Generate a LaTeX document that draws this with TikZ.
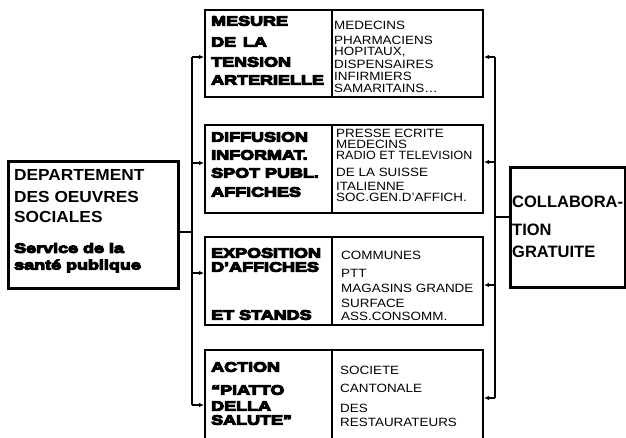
\documentclass[tikz,border=0pt]{standalone}
\usepackage{fontspec}
\newfontfamily\heavyfont[FakeStretch=1.33,FakeBold=8]{Liberation Sans Bold}
\newfontfamily\headfont[FakeStretch=1.08]{Liberation Sans Bold}
\newfontfamily\boldfont{Liberation Sans Bold}
\newfontfamily\listfont[FakeStretch=1.12]{Liberation Sans}
\usetikzlibrary{arrows.meta,positioning}
\tikzset{
  box/.style={draw, line width=2pt, inner sep=0pt},
  heavy/.style={anchor=west, inner sep=0pt, font=\heavyfont\fontsize{13.5}{13.5}\selectfont},
  item/.style={anchor=west, inner sep=0pt, font=\listfont\fontsize{12}{12}\selectfont},
  head/.style={anchor=west, inner sep=0pt, font=\headfont\fontsize{16}{16}\selectfont},
  bus/.style={line width=1.3pt},
  arr/.style={-{Latex[length=5pt,width=4.5pt]}, line width=1.3pt}
}
\begin{document}
\begin{tikzpicture}[x=1pt,y=-1pt]
\clip (0,0) rectangle (626,438);
\fill[white] (0,0) rectangle (626,438);
% left: department
\node[box, line width=3pt, minimum width=170pt, minimum height=126pt] (dep) at (93,225) {};
\node[head] (dep1) at (14,175) {DEPARTEMENT};
\node[head] (dep2) at (14,197) {DES OEUVRES};
\node[head] (dep3) at (14,217) {SOCIALES};
\node[heavy, font=\heavyfont\fontsize{13.5}{13.5}\selectfont] (sp1) at (14,248) {Service de la};
\node[heavy, font=\heavyfont\fontsize{13.5}{13.5}\selectfont] (sp2) at (14,266) {santé publique};
% middle: the four actions
\node[box, minimum width=278pt, minimum height=87pt] (mes) at (344,53.5) {};
\node[box, minimum width=278pt, minimum height=88pt] (dif) at (344,169) {};
\node[box, minimum width=278pt, minimum height=88pt] (exp) at (344,281) {};
\node[box, minimum width=278pt, minimum height=110pt] (act) at (344,405) {};
\coordinate (div) at (332,0);
\foreach \n in {mes,dif,exp,act}
  \draw[line width=1.5pt] (\n.north -| div) -- (\n.south -| div);
% action titles
\foreach \t/\y [count=\i] in {MESURE/21, DE\enspace LA/42, TENSION/62, ARTERIELLE/80,
    DIFFUSION/137, INFORMAT./155, SPOT PUBL./173, AFFICHES/192,
    EXPOSITION/253, D’AFFICHES/267, ET STANDS/315,
    ACTION/367, “PIATTO/390, DELLA/406, SALUTE”/420}
  \node[heavy] (ti-\i) at (211,\y) {\t};
% partners
\foreach \t/\y [count=\i] in {MEDECINS/25, PHARMACIENS/40, {HOPITAUX,}/52, DISPENSAIRES/64,
    INFIRMIERS/76, {SAMARITAINS\ldots}/88}
  \node[item] (pa-\i) at (334,\y) {\t};
\foreach \t/\y [count=\i] in {PRESSE ECRITE/133, MEDECINS/144, {\scalebox{0.93}[1]{RADIO ET TELEVISION}}/155,
    DE LA SUISSE/172, ITALIENNE/186, SOC.GEN.D’AFFICH./197}
  \node[item] (pb-\i) at (336,\y) {\t};
\foreach \t/\y [count=\i] in {COMMUNES/255, PTT/273, MAGASINS GRANDE/288, SURFACE/303,
    ASS.CONSOMM./316}
  \node[item] (pc-\i) at (341,\y) {\t};
\foreach \t/\y [count=\i] in {SOCIETE/370, CANTONALE/388, DES/408, RESTAURATEURS/422}
  \node[item] (pd-\i) at (340,\y) {\t};
% right: collaboration
\node[box, line width=3pt, minimum width=115pt, minimum height=119pt] (col) at (567.5,227.5) {};
\node[head, font=\boldfont\fontsize{16.5}{16.5}\selectfont] (col1) at (512,202) {COLLABORA-};
\node[head, font=\boldfont\fontsize{16.5}{16.5}\selectfont] (col2) at (512,230) {TION};
\node[head, font=\boldfont\fontsize{16.5}{16.5}\selectfont] (col3) at (512,252) {GRATUITE};
% left distribution
\coordinate (lj) at (192,232);
\foreach \n/\y in {mes/57, dif/163, exp/273, act/405}
  \coordinate (lb-\n) at (192,\y);
\draw[bus] (dep.east |- lj) -- (lj);
\draw[bus] (lb-mes) -- (lb-act);
\foreach \n in {mes,dif,exp,act}
  \draw[arr] (lb-\n) -- (lb-\n -| \n.west);
% right distribution
\coordinate (rj) at (495,217);
\foreach \n/\y in {mes/57, dif/162, exp/285, act/398}
  \coordinate (rb-\n) at (495,\y);
\draw[bus] (rj) -- (rj -| col.west);
\draw[bus] (rb-mes) -- (rb-act);
\foreach \n in {mes,dif,exp,act}
  \draw[arr] (rb-\n) -- (rb-\n -| \n.east);
\end{tikzpicture}
\end{document}
